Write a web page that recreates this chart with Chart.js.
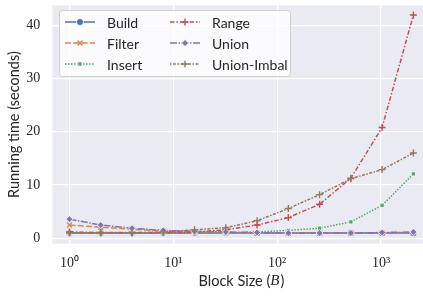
<!DOCTYPE html>
<html>
<head>
<meta charset="utf-8">
<script src="https://cdn.jsdelivr.net/npm/chart.js@4.4.0/dist/chart.umd.min.js"></script>
<style>
  html, body { margin: 0; padding: 0; background: #fff; overflow: hidden; width: 423px; height: 296px; }
  #wrap { width: 436px; height: 296px; }
</style>
</head>
<body>
<div id="wrap"><canvas id="chart" width="436" height="296"></canvas></div>
<script>
// block sizes (x) and running times in seconds
const blockSizes = [1, 2, 4, 8, 16, 32, 64, 128, 256, 512, 1024, 2048];
const buildTimes = [1.0, 1.0, 1.0, 1.0, 1.0, 1.0, 1.0, 1.0, 1.0, 1.0, 1.0, 1.0];
const filterTimes = [2.5, 2.1, 1.7, 1.4, 1.2, 1.1, 1.0, 1.0, 1.0, 1.0, 1.0, 1.0];
const insertTimes = [1.0, 1.0, 1.0, 1.0, 1.0, 1.0, 1.2, 1.5, 1.9, 3.1, 6.2, 12.1];
const rangeTimes = [1.2, 1.1, 1.1, 1.1, 1.2, 1.6, 2.5, 3.9, 6.4, 11.3, 20.8, 41.9];
const unionTimes = [3.6, 2.5, 1.9, 1.5, 1.3, 1.2, 1.1, 1.0, 1.0, 1.0, 1.1, 1.2];
const unionImbalTimes = [1.0, 1.0, 1.0, 1.2, 1.6, 2.0, 3.3, 5.6, 8.2, 11.2, 12.9, 16.0];
const xTicks = [1, 10, 100, 1000];
const yTicks = [0, 10, 20, 30, 40];

const sans = 'Lato';
const serif = 'Liberation Serif';

const series = [
    { label: 'Build', data: buildTimes, color: '#4c72b0', dash: [], marker: 'circle', filled: true },
    { label: 'Filter', data: filterTimes, color: '#dd8452', dash: [6, 2.3], marker: 'crossRot', filled: false },
    { label: 'Insert', data: insertTimes, color: '#55a868', dash: [1.5, 1.5], marker: 'rect', filled: true },
    { label: 'Range', data: rangeTimes, color: '#c44e52', dash: [4.5, 1.9, 1.5, 1.9], marker: 'cross', filled: false },
    { label: 'Union', data: unionTimes, color: '#8172b3', dash: [7, 1.5, 1.5, 1.5], marker: 'rectRot', filled: true },
    { label: 'Union-Imbal', data: unionImbalTimes, color: '#937860', dash: [1.5, 1.5, 3, 1.5], marker: 'cross', filled: false }
];

const supers = { '0': '\u2070', '1': '\u00b9', '2': '\u00b2', '3': '\u00b3' };

const datasets = series.map((s, i) => ({
    label: s.label,
    data: s.data.map((v, j) => ({ x: blockSizes[j], y: v })),
    borderColor: s.color,
    borderWidth: 1.5,
    borderDash: s.dash,
    pointStyle: s.marker,
    pointRadius: s.marker === 'rect' ? 3 : 3.5,
    pointBackgroundColor: s.color,
    pointBorderColor: s.filled ? '#ffffff' : s.color,
    pointBorderWidth: s.filled ? 0.8 : 1.4,
    tension: 0,
    fill: false,
    order: 6 - i
}));

// plot background + titles + legend
const decorations = {
    id: 'decorations',
    beforeDraw(chart) {
        const { ctx, chartArea } = chart;
        ctx.save();
        ctx.fillStyle = '#eaeaf2';
        ctx.fillRect(chartArea.left, chartArea.top, chartArea.right - chartArea.left, chartArea.bottom - chartArea.top);
        ctx.restore();
    },
    afterDraw(chart) {
        const { ctx, chartArea } = chart;
        ctx.save();
        ctx.fillStyle = '#262626';
        // y title
        ctx.font = '14.5px ' + sans;
        ctx.textAlign = 'center';
        ctx.textBaseline = 'middle';
        ctx.translate(14.5, (chartArea.top + chartArea.bottom) / 2);
        ctx.rotate(-Math.PI / 2);
        ctx.fillText('Running time (seconds)', 0, 0);
        ctx.restore();

        // x title with italic B
        ctx.save();
        ctx.fillStyle = '#262626';
        ctx.textBaseline = 'middle';
        const cx = (chartArea.left + chartArea.right) / 2;
        const parts = [['Block Size (', '14.5px ' + sans], ['B', 'italic 15px ' + serif], [')', '14.5px ' + sans]];
        let total = 0;
        parts.forEach(p => { ctx.font = p[1]; total += ctx.measureText(p[0]).width + (p[0] === 'B' ? 1 : 0); });
        let x = cx - total / 2;
        parts.forEach(p => {
            ctx.font = p[1];
            ctx.fillText(p[0], x, 281);
            x += ctx.measureText(p[0]).width + (p[0] === 'B' ? 1 : 0);
        });
        ctx.restore();

        // legend
        ctx.save();
        const bx = 59.5, by = 10.5, bw = 231, bh = 66, r = 3;
        ctx.beginPath();
        ctx.moveTo(bx + r, by);
        ctx.arcTo(bx + bw, by, bx + bw, by + bh, r);
        ctx.arcTo(bx + bw, by + bh, bx, by + bh, r);
        ctx.arcTo(bx, by + bh, bx, by, r);
        ctx.arcTo(bx, by, bx + bw, by, r);
        ctx.closePath();
        ctx.fillStyle = 'rgba(255,255,255,0.8)';
        ctx.fill();
        ctx.strokeStyle = '#d0d0d0';
        ctx.lineWidth = 1;
        ctx.stroke();

        const rows = [22, 43, 64];
        const cols = [65, 170];
        chart.data.datasets.forEach((ds, i) => {
            const col = Math.floor(i / 3), row = i % 3;
            const x0 = cols[col], y0 = rows[row];
            ctx.save();
            ctx.strokeStyle = ds.borderColor;
            ctx.lineWidth = 1.5;
            ctx.setLineDash(ds.borderDash);
            ctx.beginPath();
            ctx.moveTo(x0, y0);
            ctx.lineTo(x0 + 30, y0);
            ctx.stroke();
            ctx.restore();
            ctx.save();
            ctx.fillStyle = ds.pointBackgroundColor;
            ctx.strokeStyle = ds.pointBorderColor;
            ctx.lineWidth = ds.pointBorderWidth;
            ctx.setLineDash([]);
            Chart.helpers.drawPoint(ctx, {
                pointStyle: ds.pointStyle,
                radius: ds.pointRadius,
                rotation: 0,
                borderWidth: ds.pointBorderWidth
            }, x0 + 15, y0);
            ctx.restore();
            ctx.fillStyle = '#262626';
            ctx.font = '14px ' + sans;
            ctx.textAlign = 'left';
            ctx.textBaseline = 'middle';
            ctx.fillText(ds.label, x0 + 42, y0 + 1);
        });
        ctx.restore();
    }
};

new Chart(document.getElementById('chart'), {
    type: 'line',
    data: { datasets: datasets },
    options: {
        responsive: false,
        animation: false,
        layout: { padding: { top: 3.3, left: 0, right: 2, bottom: 0 } },
        plugins: { legend: { display: false }, tooltip: { enabled: false } },
        scales: {
            x: {
                type: 'logarithmic',
                min: 0.683,
                max: 3000,
                afterBuildTicks: scale => { scale.ticks = xTicks.map(v => ({ value: v })); },
                afterFit: scale => {
                    scale.height = 52.3;
                    scale.paddingLeft = 0; scale.paddingRight = 0;
                    scale.paddingTop = 0; scale.paddingBottom = 0;
                },
                grid: { color: '#ffffff', lineWidth: 1.2, drawTicks: false },
                border: { display: false },
                ticks: {
                    padding: 11,
                    color: '#262626',
                    font: { family: serif, size: 14 },
                    maxRotation: 0,
                    callback: v => '10' + String(Math.round(Math.log10(v))).split('').map(d => supers[d]).join('')
                }
            },
            y: {
                min: -1.0,
                max: 43.7,
                afterBuildTicks: scale => { scale.ticks = yTicks.map(v => ({ value: v })); },
                afterFit: scale => {
                    scale.width = 52.3;
                    scale.paddingLeft = 0; scale.paddingRight = 0;
                    scale.paddingTop = 0; scale.paddingBottom = 0;
                },
                grid: { color: '#ffffff', lineWidth: 1.2, drawTicks: false },
                border: { display: false },
                ticks: {
                    padding: 12,
                    color: '#262626',
                    font: { family: serif, size: 14 }
                }
            }
        }
    },
    plugins: [decorations]
});
</script>
</body>
</html>
